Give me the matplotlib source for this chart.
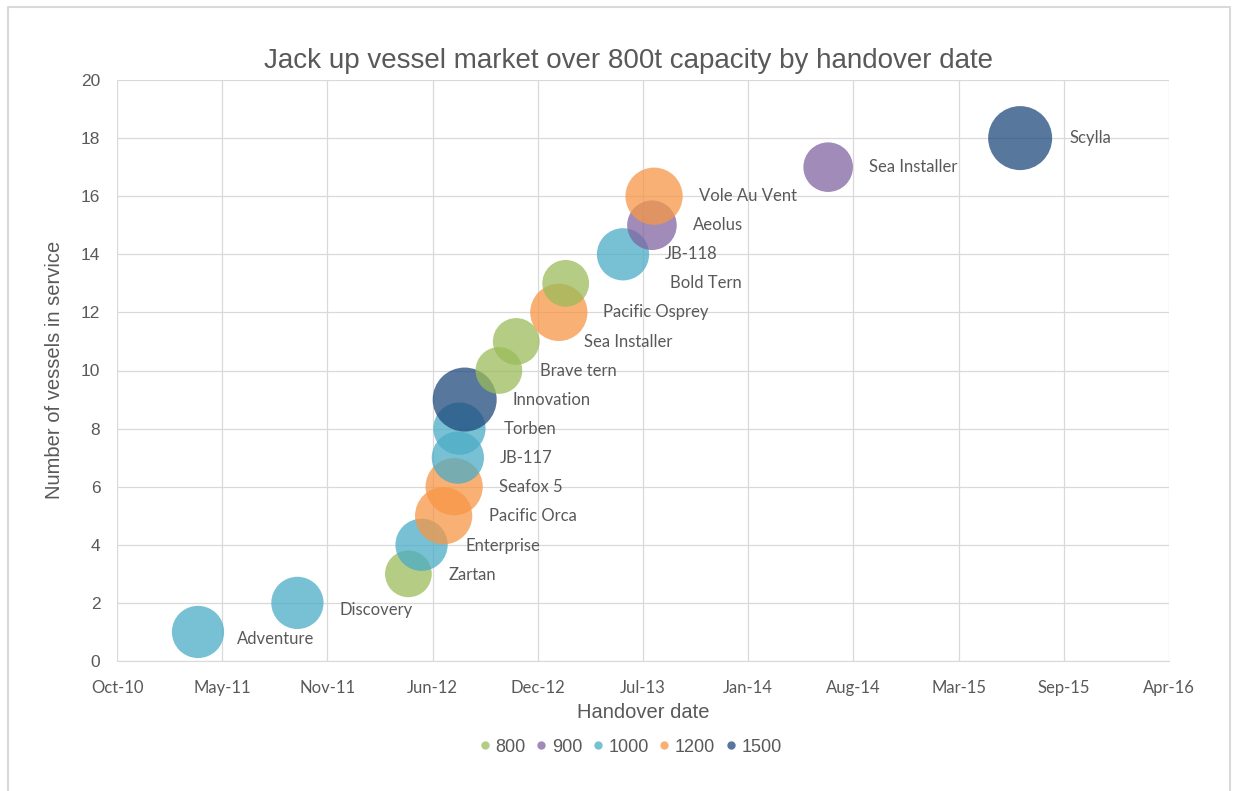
import numpy as np
import matplotlib
matplotlib.use("Agg")
import matplotlib.pyplot as plt
import matplotlib.dates as mdates
from matplotlib.lines import Line2D

# vessel data
names = ["Adventure", "Discovery", "Zartan", "Enterprise", "Pacific Orca", "Seafox 5",
         "JB-117", "Torben", "Innovation", "Brave tern", "Sea Installer", "Pacific Osprey",
         "Bold Tern", "JB-118", "Aeolus", "Vole Au Vent", "Sea Installer", "Scylla"]
handover = ["2011-03-16", "2011-09-21", "2012-04-19", "2012-05-14", "2012-06-25", "2012-07-15",
            "2012-07-22", "2012-07-25", "2012-08-04", "2012-10-08", "2012-11-10", "2013-01-30",
            "2013-02-12", "2013-06-01", "2013-07-26", "2013-07-30", "2014-06-26", "2015-06-26"]
in_service = [1, 2, 3, 4, 5, 6, 7, 8, 9, 10, 11, 12, 13, 14, 15, 16, 17, 18]
capacity = [1000, 1000, 800, 1000, 1200, 1200, 1000, 1000, 1500, 800, 800, 1200,
            800, 1000, 900, 1200, 900, 1500]

classes = [800, 900, 1000, 1200, 1500]
colors = {800: "#9BBB59", 900: "#8064A2", 1000: "#4BACC6", 1200: "#F79646", 1500: "#1F497D"}

# label offsets (pixels) from bubble centre
lab_dx = [39, 42, 40, 44, 45, 45, 42, 44, 48, 41, 68, 44, 104, 42, 41, 45, 41, 49]
lab_dy = [-7, -7, -1, -1, 0, 0, 0, 0, 0, 0, -1, 0, 0, 0, 0, 0, 0, 0]

dates = np.array(handover, dtype="datetime64[D]")
x = mdates.date2num(dates)

grey = "#595959"
fig = plt.figure(figsize=(12.38, 7.91), dpi=100)
ax = fig.add_axes([117/1238, 130/791, (1169-117)/1238, (661-80)/791])

sizes = [1.415 * c for c in capacity]
for i in range(len(names)):
    ax.scatter(x[i], in_service[i], s=sizes[i], color=colors[capacity[i]], alpha=0.75,
               edgecolors="none", zorder=3)
    ax.annotate(names[i], (x[i], in_service[i]), xytext=(lab_dx[i], lab_dy[i]),
                textcoords="offset pixels", ha="left", va="center",
                fontsize=12, family="Lato", color=grey, zorder=4)

start = mdates.date2num(np.datetime64("2010-10-13"))
ax.set_xlim(start, start + 2000)
ax.set_ylim(0, 20)
ax.set_xticks(start + np.arange(0, 2001, 200))
ax.xaxis.set_major_formatter(mdates.DateFormatter("%b-%y"))
ax.set_yticks(np.arange(0, 21, 2))
ax.grid(True, color="#D9D9D9", linewidth=0.9, zorder=0)
ax.set_axisbelow(True)
for s in ax.spines.values():
    s.set_visible(False)
ax.spines["bottom"].set_visible(True)
ax.spines["bottom"].set_color("#D9D9D9")
ax.tick_params(length=0, colors=grey)
for t in ax.get_xticklabels():
    t.set_family("Lato")
    t.set_fontsize(12)
for t in ax.get_yticklabels():
    t.set_family("Liberation Sans")
    t.set_fontsize(12.5)
ax.tick_params(axis="x", pad=14)
ax.tick_params(axis="y", pad=12)

fig.text(628/1238, 1 - 61/791, "Jack up vessel market over 800t capacity by handover date",
         ha="center", va="center", fontsize=20, family="Liberation Sans", color=grey)
fig.text(643/1238, 1 - 713/791, "Handover date", ha="center", va="center",
         fontsize=14.5, family="Liberation Sans", color=grey)
fig.text(55/1238, 1 - 370/791, "Number of vessels in service", ha="center", va="center",
         rotation=90, fontsize=14.5, family="Liberation Sans", color=grey)

handles = [Line2D([], [], marker="o", linestyle="none", markersize=6,
                  markerfacecolor=colors[c], markeredgecolor="none", alpha=0.75) for c in classes]
fig.legend(handles, [str(c) for c in classes], loc="center", bbox_to_anchor=(631/1238, 1 - 747/791),
           ncol=5, frameon=False, handlelength=0.5, handletextpad=0.35, columnspacing=0.6,
           prop={"family": "Liberation Sans", "size": 13}, labelcolor=grey)

# chart border
fig.add_artist(Line2D([8/1238, 8/1238, 1230/1238, 1230/1238], [0, 1 - 7/791, 1 - 7/791, 0],
                      color="#D9D9D9", linewidth=1.5))

fig.savefig("out.png", dpi=100, facecolor="white")
